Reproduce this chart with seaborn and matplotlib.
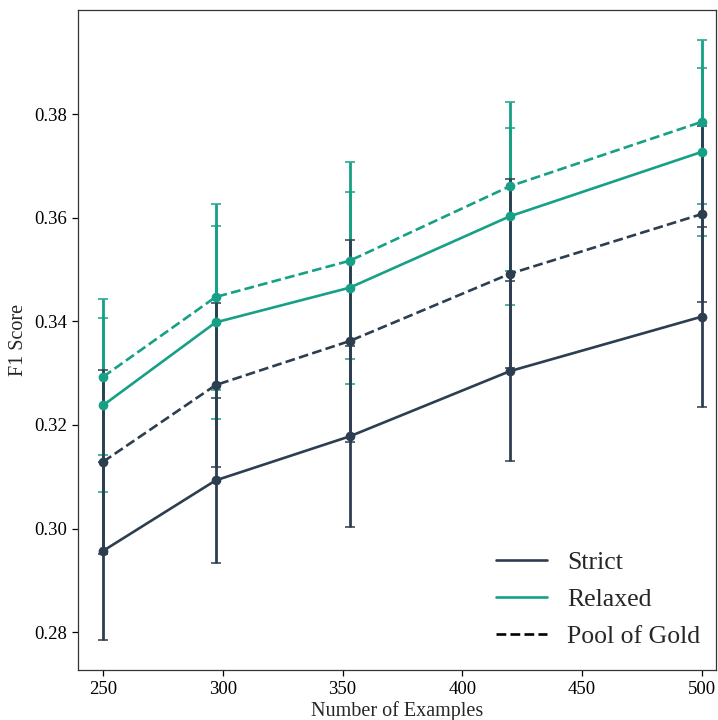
import matplotlib
matplotlib.use("Agg")
import matplotlib.pyplot as plt
from matplotlib.lines import Line2D
import pandas as pd
import seaborn as sns

# ---- data ----
examples = [250, 297, 353, 420, 500]
strict = [0.2957, 0.3093, 0.3178, 0.3304, 0.3409]
strict_err = [0.0172, 0.0159, 0.0175, 0.0174, 0.0174]
strict_gold = [0.3129, 0.3277, 0.3362, 0.3492, 0.3607]
strict_gold_err = [0.0178, 0.0159, 0.0195, 0.0183, 0.0170]
relaxed = [0.3238, 0.3398, 0.3465, 0.3603, 0.3727]
relaxed_err = [0.0168, 0.0187, 0.0185, 0.0171, 0.0162]
relaxed_gold = [0.3293, 0.3447, 0.3517, 0.3661, 0.3785]
relaxed_gold_err = [0.0151, 0.0180, 0.0190, 0.0163, 0.0158]

metrics = ["Strict", "Relaxed"]
legend_labels = ["Strict", "Relaxed", "Pool of Gold"]

DARK = "#2c3e50"
TEAL = "#16a085"

sns.set_style("ticks")
plt.rcParams["font.family"] = ["Liberation Serif", "DejaVu Serif"]
plt.rcParams["mathtext.fontset"] = "stix"

rows = []
for m, t, vals, errs in [
    ("Strict", "Standard", strict, strict_err),
    ("Strict", "Pool of Gold", strict_gold, strict_gold_err),
    ("Relaxed", "Standard", relaxed, relaxed_err),
    ("Relaxed", "Pool of Gold", relaxed_gold, relaxed_gold_err),
]:
    for x, v, e in zip(examples, vals, errs):
        rows.append({"Examples": x, "F1": v, "err": e, "Metric": m, "Type": t})
df = pd.DataFrame(rows)

fig = plt.figure(figsize=(7.18, 7.2), dpi=100)
ax = fig.add_axes([78 / 718, 1 - 670 / 720, (716 - 78) / 718, (670 - 10) / 720])

palette = {"Strict": DARK, "Relaxed": TEAL}

# error bars: relaxed under strict
for m, z in [("Relaxed", 1), ("Strict", 2)]:
    for t in ["Standard", "Pool of Gold"]:
        sub = df[(df.Metric == m) & (df.Type == t)]
        ax.errorbar(sub.Examples, sub.F1, yerr=sub.err, fmt="none",
                    ecolor=palette[m], elinewidth=2.0, capsize=3.8,
                    capthick=1.1, zorder=z)

sns.lineplot(data=df, x="Examples", y="F1", hue="Metric", style="Type",
             hue_order=metrics, style_order=["Standard", "Pool of Gold"],
             palette=palette, markers={"Standard": "o", "Pool of Gold": "o"},
             dashes={"Standard": "", "Pool of Gold": (3.7, 1.6)},
             markersize=7, markeredgewidth=0, linewidth=1.9,
             errorbar=None, ax=ax, legend=False, zorder=3)

ax.set_xlim(239.5, 506)
ax.set_ylim(0.2727, 0.4001)
ax.set_xticks([250, 300, 350, 400, 450, 500])
ax.set_yticks([0.28, 0.30, 0.32, 0.34, 0.36, 0.38])
ax.set_yticklabels([f"{v:.2f}" for v in [0.28, 0.30, 0.32, 0.34, 0.36, 0.38]])
ax.tick_params(labelsize=13.5, length=4.5, width=0.9, colors="black")
ax.set_xlabel("Number of Examples", fontsize=14.5, labelpad=2)
ax.set_ylabel("F1 Score", fontsize=14.5, labelpad=4)
for s in ax.spines.values():
    s.set_color("#333333")
    s.set_linewidth(0.9)

handles = [
    Line2D([0], [0], color=DARK, lw=1.9),
    Line2D([0], [0], color=TEAL, lw=1.9),
    Line2D([0], [0], color="black", lw=1.9, ls=(0, (3.7, 1.6))),
]
ax.legend(handles, legend_labels, loc="lower right", frameon=False,
          fontsize=18.5, handlelength=2.0, labelspacing=0.55,
          bbox_to_anchor=(0.992, 0.018), borderaxespad=0.0)

fig.savefig("out.png", dpi=100)
